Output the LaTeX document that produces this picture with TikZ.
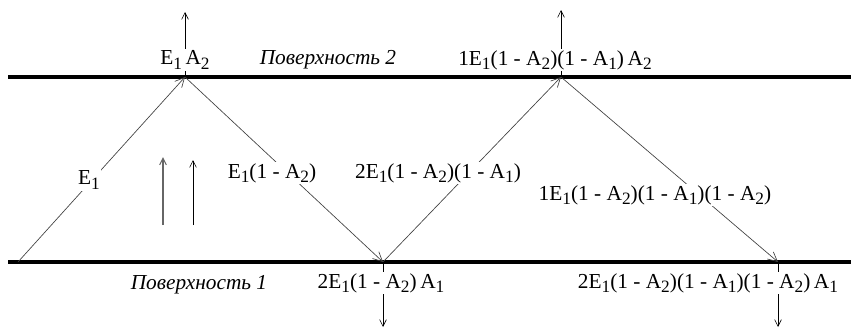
\documentclass[tikz,border=0pt]{standalone}
\usepackage{fontspec}
\setmainfont{Liberation Serif}
\usetikzlibrary{arrows.meta, positioning}
\newcommand{\idx}[1]{\raisebox{-0.45ex}{\fontsize{13}{14}\selectfont #1}}
\newcommand{\mn}{\hspace{0.25em}-\hspace{0.25em}}

\begin{document}
\begin{tikzpicture}[x=0.75pt, y=0.75pt,
  surface/.style={line width=2.7pt},
  ray/.style={draw, line width=0.5pt, black!75, -{Straight Barb[length=7pt, width=7pt]}},
  flux/.style={draw, line width=0.5pt, -{Straight Barb[length=5pt, width=5pt]}},
  lbl/.style={fill=white, inner sep=1pt, font=\fontsize{16}{18}\selectfont},
  surfname/.style={font=\fontsize{16}{18}\selectfont\itshape}
]
\useasboundingbox (0,0) rectangle (851,330);

\coordinate (s2a) at (8,253);  \coordinate (s2b) at (851,253);
\coordinate (s1a) at (8,68);   \coordinate (s1b) at (851,68);
\coordinate (p0) at (18,68);
\coordinate (p1) at (185,253);
\coordinate (p2) at (383,68);
\coordinate (p3) at (561,253);
\coordinate (p4) at (778,68);
\coordinate (o1) at (185,318);
\coordinate (o3) at (561,320);
\coordinate (o2) at (383,3);
\coordinate (o4) at (778,3);
\coordinate (m1a) at (163,105); \coordinate (m1b) at (163,173);
\coordinate (m2a) at (193,105); \coordinate (m2b) at (193,170);

\draw[surface] (s2a) -- (s2b);
\draw[surface] (s1a) -- (s1b);

\draw[ray] (p0) -- (p1);
\draw[ray] (p1) -- (p2);
\draw[ray] (p2) -- (p3);
\draw[ray] (p3) -- (p4);

\draw[flux] (p1) -- (o1);
\draw[flux] (p3) -- (o3);
\draw[flux] (p2) -- (o2);
\draw[flux] (p4) -- (o4);
\draw[flux, black!60, line width=0.8pt] (m1a) -- (m1b);
\draw[flux] (m2a) -- (m2b);

\node[lbl] (a1) at (185,270) {E\idx{1}\,A\idx{2}};
\node[lbl] (a3) at (555,270) {1E\idx{1}(1\mn A\idx{2})(1\mn A\idx{1})\,A\idx{2}};
\node[lbl] (b2) at (381,47) {2E\idx{1}(1\mn A\idx{2})\,A\idx{1}};
\node[lbl] (b4) at (708,47) {2E\idx{1}(1\mn A\idx{2})(1\mn A\idx{1})(1\mn A\idx{2})\,A\idx{1}};

\node[lbl] (r1) at (89,150) {E\idx{1}};
\node[lbl] (r2) at (272,157) {E\idx{1}(1\mn A\idx{2})};
\node[lbl] (r3) at (438,157) {2E\idx{1}(1\mn A\idx{2})(1\mn A\idx{1})};
\node[lbl] (r4) at (655,135) {1E\idx{1}(1\mn A\idx{2})(1\mn A\idx{1})(1\mn A\idx{2})};

\node[surfname] (n2) at (328,270) {Поверхность 2};
\node[surfname] (n1) at (199,45) {Поверхность 1};
\end{tikzpicture}
\end{document}
